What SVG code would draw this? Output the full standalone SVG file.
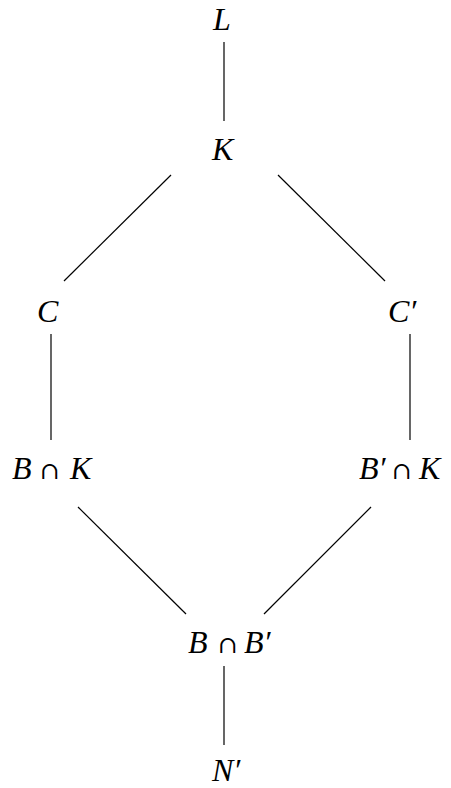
<svg xmlns="http://www.w3.org/2000/svg" width="451" height="788" viewBox="0 0 451 788">
<style>
text{font-family:'Liberation Serif','Times New Roman',serif;font-style:italic;font-size:32px;fill:#000}
tspan.op{font-style:normal;font-family:'DejaVu Serif',serif;font-size:24px}
.e{stroke:#000;stroke-width:1.2;fill:none}
</style>
<rect width="451" height="788" fill="#fff"/>
<g id="connectors">
<line class="e" x1="224" y1="42" x2="224" y2="121"/>
<line class="e" x1="171" y1="175" x2="64" y2="281"/>
<line class="e" x1="278" y1="175" x2="385" y2="281"/>
<line class="e" x1="51" y1="334" x2="51" y2="440"/>
<line class="e" x1="410" y1="334" x2="410" y2="440"/>
<line class="e" x1="78" y1="507" x2="186" y2="614"/>
<line class="e" x1="371" y1="507" x2="264" y2="614"/>
<line class="e" x1="224" y1="666" x2="224" y2="745"/>
</g>
<g id="L"><text x="213" y="30">L</text></g>
<g id="K"><text x="212" y="160">K</text></g>
<g id="C"><text x="37" y="322">C</text></g>
<g id="Cp"><text x="388" y="322">C′</text></g>
<g id="BK"><text y="479"><tspan x="12">B</tspan><tspan class="op" x="40">∩</tspan><tspan x="70">K</tspan></text></g>
<g id="BpK"><text y="479"><tspan x="359">B′</tspan><tspan class="op" x="392">∩</tspan><tspan x="419">K</tspan></text></g>
<g id="BBp"><text y="653"><tspan x="188">B</tspan><tspan class="op" x="218">∩</tspan><tspan x="244">B′</tspan></text></g>
<g id="Np"><text x="212" y="781">N′</text></g>
</svg>
